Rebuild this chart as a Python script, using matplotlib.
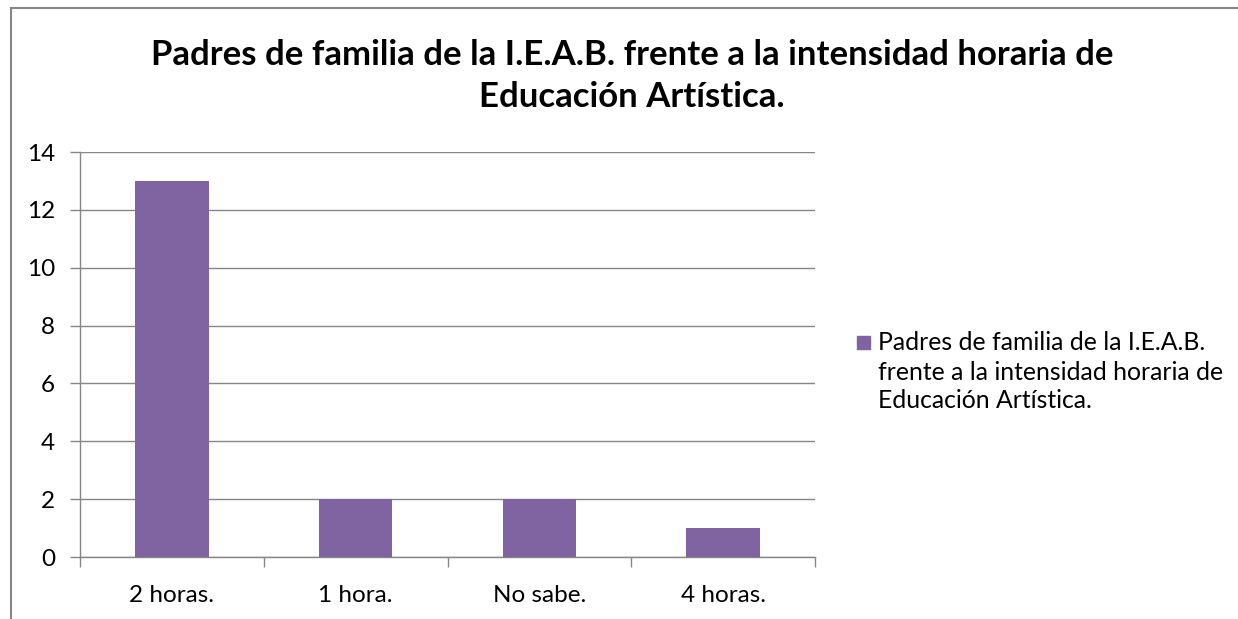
import matplotlib
matplotlib.use("Agg")
import matplotlib.pyplot as plt
from matplotlib.lines import Line2D
from matplotlib.patches import Rectangle

categories = ["2 horas.", "1 hora.", "No sabe.", "4 horas."]
values = [13, 2, 2, 1]
series_name = "Padres de familia de la I.E.A.B.\nfrente a la intensidad horaria de\nEducación Artística."
title = "Padres de familia de la I.E.A.B. frente a la intensidad horaria de\nEducación Artística."
yticks = [0, 2, 4, 6, 8, 10, 12, 14]

plt.rcParams['font.family'] = ['Lato', 'DejaVu Sans']
W, H = 1238, 619
fig = plt.figure(figsize=(W / 100, H / 100), dpi=100)

# outer chart border (partial, cropped)
fig.add_artist(Line2D([11 / W, 1.0], [1 - 8 / H, 1 - 8 / H], color="#868686", lw=1.5, transform=fig.transFigure))
fig.add_artist(Line2D([11 / W, 11 / W], [0, 1 - 8 / H], color="#868686", lw=1.5, transform=fig.transFigure))

x0, x1, y0, y1 = 80, 815, 152, 557
ax = fig.add_axes([x0 / W, 1 - y1 / H, (x1 - x0) / W, (y1 - y0) / H])
pos = list(range(len(categories)))
ax.bar(pos, values, width=0.4, color="#8064A2", zorder=3, label=series_name)
ax.set_xlim(-0.5, len(categories) - 0.5)
ax.set_ylim(0, 14)
ax.set_yticks(yticks)
ax.set_yticklabels([str(v) for v in yticks], fontsize=17.5)
ax.yaxis.grid(True, color="#868686", lw=1, zorder=0)
ax.set_xticks(pos)
ax.set_xticklabels(categories, fontsize=17.5)
ax.tick_params(axis="x", length=0, pad=20)
ax.set_xticks([p - 0.5 for p in pos] + [len(pos) - 0.5], minor=True)
ax.tick_params(axis="x", which="minor", length=7, color="#868686", width=1)
ax.tick_params(axis="y", length=7, color="#868686", width=1, pad=11)
for s in ["top", "right"]:
    ax.spines[s].set_visible(False)
for s in ["left", "bottom"]:
    ax.spines[s].set_color("#868686")
    ax.spines[s].set_linewidth(1)

for line, yy in zip(title.split("\n"), [55, 97]):
    fig.text(632 / W, 1 - yy / H, line, ha="center", va="center", fontsize=25, fontweight="bold")

# legend
fig.add_artist(Rectangle((857 / W, 1 - 349 / H), 13 / W, 13 / H, color="#8064A2", transform=fig.transFigure))
for line, yy in zip(series_name.split("\n"), [343, 372, 401]):
    fig.text(878 / W, 1 - yy / H, line, ha="left", va="center", fontsize=17.8)

fig.savefig("out.png", dpi=100, facecolor="white")
